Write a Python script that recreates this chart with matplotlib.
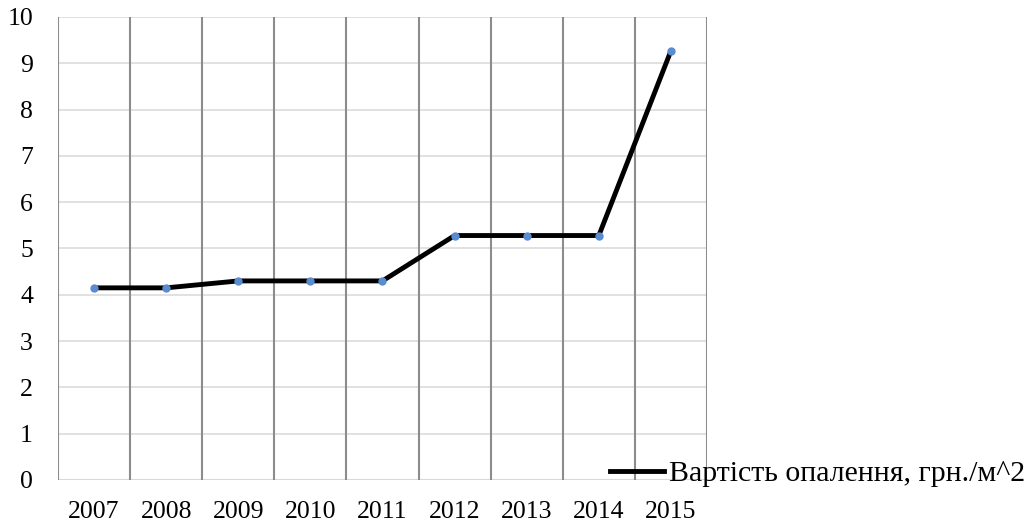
import matplotlib
matplotlib.use("Agg")
import matplotlib.pyplot as plt
from matplotlib.lines import Line2D
import numpy as np

years = ["2007", "2008", "2009", "2010", "2011", "2012", "2013", "2014", "2015"]
cost = [4.15, 4.15, 4.3, 4.3, 4.3, 5.28, 5.28, 5.28, 9.27]
series_name = "Вартість опалення, грн./м^2"

plt.rcParams["font.family"] = ["Liberation Serif", "DejaVu Serif"]
FS = 18.5
LEG_FS = 21.5

fig = plt.figure(figsize=(10.32, 5.28), dpi=100)
ax = fig.add_axes([58 / 1032, 48 / 528, (707 - 58) / 1032, (480 - 17) / 528])

x = np.arange(len(years))
ax.plot(x, cost, color="black", lw=3.5, zorder=3, solid_capstyle="butt")
ax.plot(x, cost, ls="none", marker="o", ms=5, color="#5b8bd0", zorder=4)

ax.set_xlim(-0.5, len(years) - 0.5)
ax.set_ylim(0, 10)
ax.set_yticks(range(0, 11))
ax.set_xticks(x)
ax.set_xticklabels(years)

# horizontal grid
for v in range(1, 11):
    ax.axhline(v, color="#d9d9d9", lw=1.1, zorder=1)
ax.axhline(0, color="#d9d9d9", lw=1.5, zorder=1)
# vertical lines at category boundaries
for b in np.arange(-0.5, len(years), 1.0):
    ax.axvline(b, color="#8c8c8c", lw=1.5, zorder=2)

for s in ax.spines.values():
    s.set_visible(False)
ax.tick_params(length=0, labelsize=FS)
ax.tick_params(axis="x", pad=15)
ax.tick_params(axis="y", pad=18)

handle = Line2D([], [], color="black", lw=3.5)
fig.legend([handle], [series_name], loc="center left",
           bbox_to_anchor=(610 / 1032, 1 - 474 / 528), frameon=False,
           fontsize=LEG_FS, borderpad=0, borderaxespad=0,
           handlelength=1.8, handletextpad=0.16)

fig.savefig("out.png", dpi=100)
